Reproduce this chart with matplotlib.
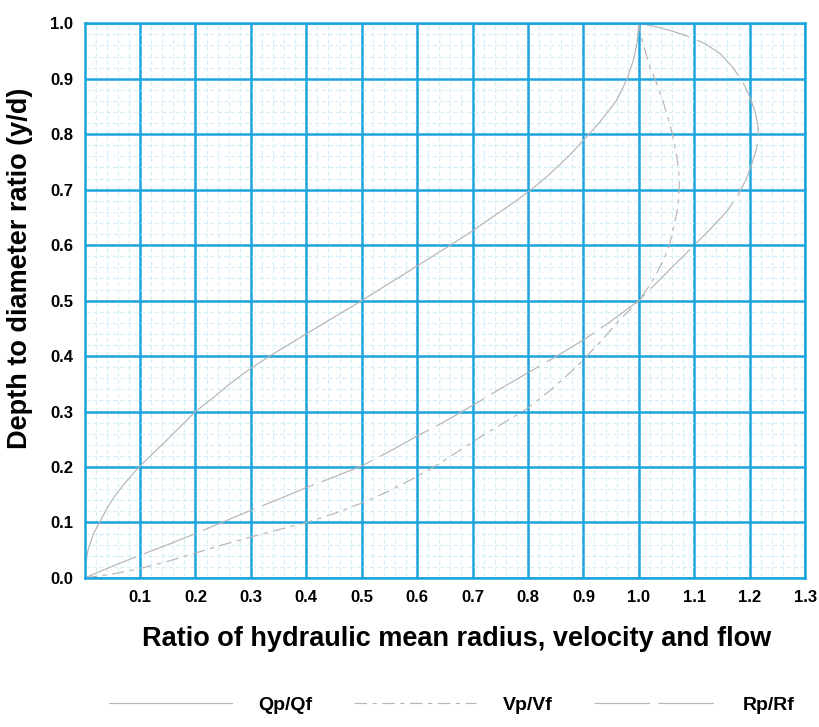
import numpy as np
import matplotlib
matplotlib.use("Agg")
import matplotlib.pyplot as plt

plt.rcParams['font.family'] = ['Liberation Sans', 'DejaVu Sans']
plt.rcParams['lines.scale_dashes'] = False

# depth ratio (y/d) vs. ratio values
q_x = [0.0, 0.001, 0.006, 0.016, 0.027, 0.04, 0.056, 0.076, 0.098, 0.124, 0.15, 0.175,
       0.20, 0.232, 0.262, 0.30, 0.334, 0.40, 0.45, 0.50, 0.569, 0.612, 0.66, 0.702,
       0.735, 0.78, 0.812, 0.84, 0.873, 0.90, 0.928, 0.96, 0.979, 0.99, 0.997, 1.0]
q_y = [0.0, 0.02, 0.05, 0.08, 0.10, 0.125, 0.15, 0.175, 0.20, 0.225, 0.25, 0.275,
       0.30, 0.325, 0.35, 0.378, 0.40, 0.44, 0.47, 0.50, 0.543, 0.57, 0.60, 0.627,
       0.65, 0.681, 0.705, 0.729, 0.76, 0.789, 0.82, 0.861, 0.90, 0.933, 0.965, 1.0]

v_x = [0.0, 0.05, 0.10, 0.15, 0.20, 0.25, 0.30, 0.35, 0.40, 0.45, 0.50, 0.55, 0.60,
       0.64, 0.678, 0.72, 0.75, 0.798, 0.84, 0.888, 0.93, 0.96, 0.985, 1.0,
       1.02, 1.045, 1.056, 1.063, 1.069, 1.072, 1.073, 1.072, 1.068, 1.063, 1.055,
       1.045, 1.033, 1.02, 1.01, 1.003, 1.0]
v_y = [0.0, 0.007, 0.017, 0.03, 0.045, 0.06, 0.074, 0.087, 0.10, 0.116, 0.135, 0.157, 0.183,
       0.206, 0.231, 0.258, 0.276, 0.305, 0.338, 0.381, 0.425, 0.459, 0.485, 0.50,
       0.528, 0.573, 0.603, 0.633, 0.66, 0.687, 0.71, 0.735, 0.763, 0.789, 0.822,
       0.855, 0.89, 0.921, 0.955, 0.98, 1.0]

r_x = [0.0, 0.05, 0.10, 0.15, 0.20, 0.25, 0.30, 0.35, 0.40, 0.45, 0.50, 0.55, 0.60,
       0.65, 0.70, 0.75, 0.80, 0.85, 0.90, 0.95, 1.0, 1.05, 1.10, 1.13, 1.158,
       1.177, 1.193, 1.204, 1.212, 1.216, 1.215, 1.21, 1.20, 1.189, 1.17, 1.147,
       1.12, 1.093, 1.06, 1.03, 1.0]
r_y = [0.0, 0.021, 0.041, 0.06, 0.08, 0.101, 0.122, 0.142, 0.163, 0.182, 0.202, 0.228, 0.256,
       0.282, 0.311, 0.341, 0.37, 0.399, 0.429, 0.463, 0.50, 0.55, 0.60, 0.63, 0.66,
       0.687, 0.717, 0.747, 0.772, 0.795, 0.815, 0.84, 0.868, 0.891, 0.92, 0.945,
       0.963, 0.975, 0.986, 0.994, 1.0]

x_ticks = [0.1, 0.2, 0.3, 0.4, 0.5, 0.6, 0.7, 0.8, 0.9, 1.0, 1.1, 1.2, 1.3]
y_ticks = [0.0, 0.1, 0.2, 0.3, 0.4, 0.5, 0.6, 0.7, 0.8, 0.9, 1.0]

blue = '#1aa5de'
light_blue = '#d3eefa'
curve = '#b5b5b5'

fig = plt.figure(figsize=(8.19, 7.27), dpi=100)
ax = fig.add_axes([0.1033, 0.205, 0.8797, 0.763])

ax.plot(q_x, q_y, color=curve, lw=0.85, label='Qp/Qf')
ax.plot(v_x, v_y, color=curve, lw=0.85, linestyle=(0, (9, 4, 3, 4)), label='Vp/Vf')
ax.plot(r_x, r_y, color=curve, lw=0.85, linestyle=(0, (40, 6)), label='Rp/Rf')

ax.set_xlim(0, 1.3)
ax.set_ylim(0, 1.0)
ax.set_xticks(x_ticks)
ax.set_yticks(y_ticks)
ax.set_xticklabels([f'{v:.1f}' for v in x_ticks], fontsize=12, fontweight='bold')
ax.set_yticklabels([f'{v:.1f}' for v in y_ticks], fontsize=12, fontweight='bold')
ax.set_xticks(np.arange(0, 1.301, 0.02), minor=True)
ax.set_yticks(np.arange(0, 1.001, 0.02), minor=True)
ax.tick_params(which='both', length=0)
ax.tick_params(axis='x', pad=9)
ax.tick_params(axis='y', pad=8)

ax.grid(which='minor', color=light_blue, lw=0.8, linestyle=(0, (3, 2)))
ax.grid(which='major', color=blue, lw=1.8)
ax.set_axisbelow(True)
for s in ax.spines.values():
    s.set_color(blue)
    s.set_linewidth(1.8)

ax.set_xlabel('Ratio of hydraulic mean radius, velocity and flow',
              fontsize=19.5, fontweight='bold')
ax.set_ylabel('Depth to diameter ratio (y/d)', fontsize=19.5, fontweight='bold')
ax.xaxis.set_label_coords(0.516, -0.086)
ax.yaxis.set_label_coords(-0.072, 0.558)

leg = ax.legend(loc='center', bbox_to_anchor=(0.51, -0.229), ncol=3, frameon=False,
                handlelength=6.3, handletextpad=1.34, columnspacing=2.16,
                prop={'weight': 'bold', 'size': 14})

fig.savefig('out.png', dpi=100)
